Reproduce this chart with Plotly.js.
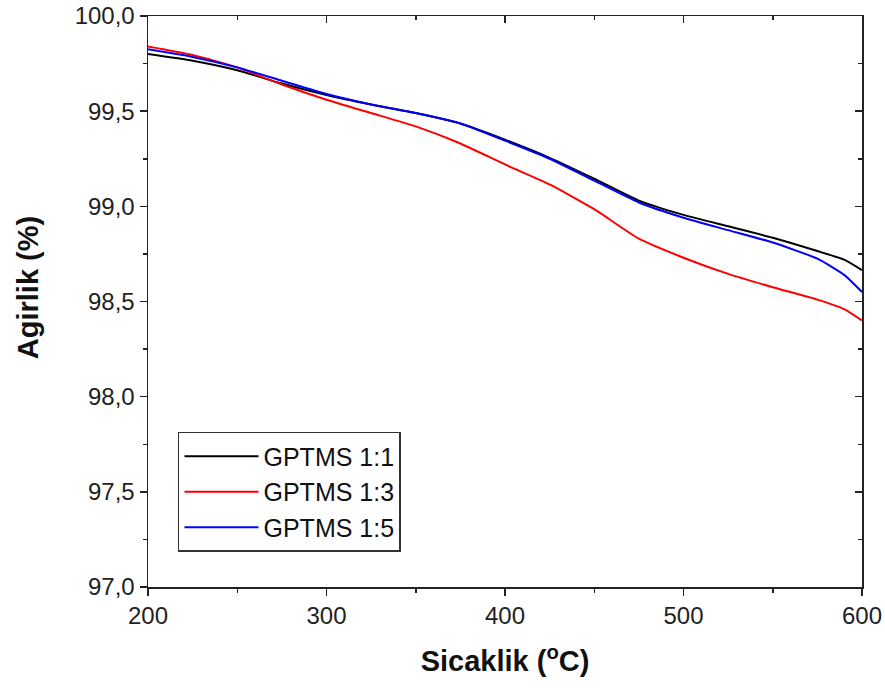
<!DOCTYPE html>
<html>
<head>
<meta charset="utf-8">
<script src="https://cdn.plot.ly/plotly-3.0.1.min.js"></script>
<style>html,body{margin:0;padding:0;background:#fff;}#chart{width:885px;height:688px;}</style>
</head>
<body>
<div id="chart"></div>
<script>
const temperature = [200,225,250,275,300,325,350,375,400,425,450,475,500,525,550,575,590,600];
const gptms11 = [99.80,99.765,99.715,99.645,99.585,99.535,99.49,99.435,99.35,99.255,99.145,99.03,98.955,98.895,98.835,98.765,98.72,98.665];
const gptms13 = [99.84,99.795,99.73,99.64,99.56,99.49,99.42,99.33,99.22,99.115,98.985,98.83,98.73,98.645,98.575,98.51,98.46,98.40];
const gptms15 = [99.825,99.785,99.73,99.66,99.59,99.535,99.49,99.435,99.345,99.25,99.135,99.02,98.94,98.875,98.81,98.725,98.64,98.55];
const seriesNames = ['GPTMS 1:1','GPTMS 1:3','GPTMS 1:5'];
const seriesColors = ['#000000','#ff0000','#0000ff'];
const seriesValues = [gptms11, gptms13, gptms15];

const FONT = 'Liberation Sans, Arial, sans-serif';

const traces = seriesValues.map((vals, i) => ({
  x: temperature, y: vals, type: 'scatter', mode: 'lines',
  name: seriesNames[i],
  line: {color: seriesColors[i], width: 2, shape: 'spline', smoothing: 0.5}
}));
traces.push({x: [], y: [], xaxis: 'x2', yaxis: 'y2', showlegend: false, hoverinfo: 'skip', type: 'scatter', mode: 'lines'});

const axisCommon = {
  showline: true, linecolor: '#222', linewidth: 1.5,
  showgrid: false, zeroline: false, ticklen: 7, tickwidth: 1.5, tickcolor: '#222'
};

const layout = {
  width: 885, height: 688,
  margin: {l: 148, r: 23, t: 16, b: 101},
  paper_bgcolor: '#fff', plot_bgcolor: '#fff',
  separators: ',.',
  font: {family: FONT, color: '#222', size: 24},
  showlegend: true,
  legend: {
    x: 0.042, y: 0.2715, xanchor: 'left', yanchor: 'top',
    bordercolor: '#333', borderwidth: 1.5, bgcolor: '#fff',
    font: {family: FONT, size: 25, color: '#111'},
    itemwidth: 74, tracegroupgap: 0
  },
  xaxis: Object.assign({}, axisCommon, {
    range: [200, 600], dtick: 100, tick0: 200, ticks: 'outside',
    tickfont: {family: FONT, size: 24, color: '#222'},
    minor: {dtick: 50, ticks: 'outside', ticklen: 4, tickwidth: 1.5, tickcolor: '#222'},
    title: {text: 'Sicaklik (<sup>o</sup>C)', font: {family: FONT, size: 29, color: '#111', weight: 'bold'}, standoff: 22}
  }),
  yaxis: Object.assign({}, axisCommon, {
    range: [97, 100], dtick: 0.5, tick0: 97, ticks: 'outside', tickformat: '.1f',
    tickfont: {family: FONT, size: 24, color: '#222'},
    minor: {dtick: 0.25, ticks: 'outside', ticklen: 4, tickwidth: 1.5, tickcolor: '#222'}
  }),
  xaxis2: Object.assign({}, axisCommon, {
    overlaying: 'x', side: 'top', anchor: 'y2', range: [200, 600], dtick: 100, tick0: 200,
    ticks: 'inside', showticklabels: false,
    minor: {dtick: 50, ticks: 'inside', ticklen: 4, tickwidth: 1.5, tickcolor: '#222'}
  }),
  yaxis2: Object.assign({}, axisCommon, {
    overlaying: 'y', side: 'right', anchor: 'x2', range: [97, 100], dtick: 0.5, tick0: 97,
    ticks: 'inside', showticklabels: false,
    minor: {dtick: 0.25, ticks: 'inside', ticklen: 4, tickwidth: 1.5, tickcolor: '#222'}
  }),
  annotations: [{
    text: 'Agirlik (%)', textangle: -90, showarrow: false,
    xref: 'paper', yref: 'paper', x: -0.1685, y: 0.5245, xanchor: 'center', yanchor: 'middle',
    font: {family: FONT, size: 29, color: '#111', weight: 'bold'}
  }]
};

Plotly.newPlot('chart', traces, layout, {displayModeBar: false, staticPlot: true});
</script>
</body>
</html>
